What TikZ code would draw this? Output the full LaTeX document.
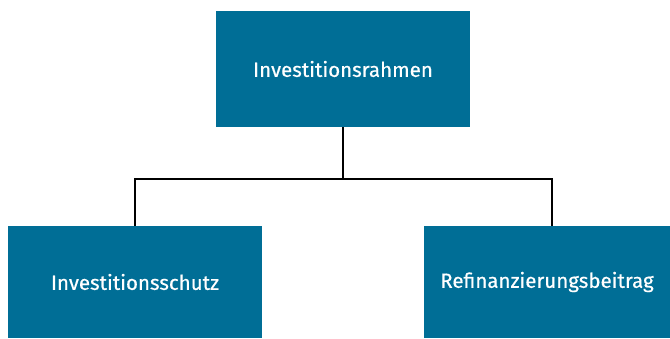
\documentclass[tikz,border=0pt]{standalone}
\usepackage{fontspec}
\setmainfont{Fira Sans}
\definecolor{boxblue}{RGB}{0,110,150}
\tikzset{
  orgbox/.style={fill=boxblue,text=white,minimum height=112pt,inner sep=0pt,font=\fontsize{20.5}{24}\selectfont\addfontfeatures{FakeBold=0.5}},
  link/.style={line width=1.6pt,black}
}
\begin{document}
\begin{tikzpicture}[x=1pt,y=1pt]
\useasboundingbox (0,0) rectangle (670,338);
\node[orgbox,minimum width=254pt,minimum height=116pt] (rahmen) at (343,269) {Investitionsrahmen};
\node[orgbox,minimum width=254pt] (schutz) at (135,56) {Investitionsschutz};
\node[orgbox,minimum width=246pt] (beitrag) at (547,56) {Refinanzierungsbeitrag};
\coordinate (split) at (343,159);
\draw[link] (rahmen.south) -- (split);
\draw[link] (split) -| (schutz.north);
\draw[link] (split) -| ([xshift=5pt]beitrag.north);
\end{tikzpicture}
\end{document}
